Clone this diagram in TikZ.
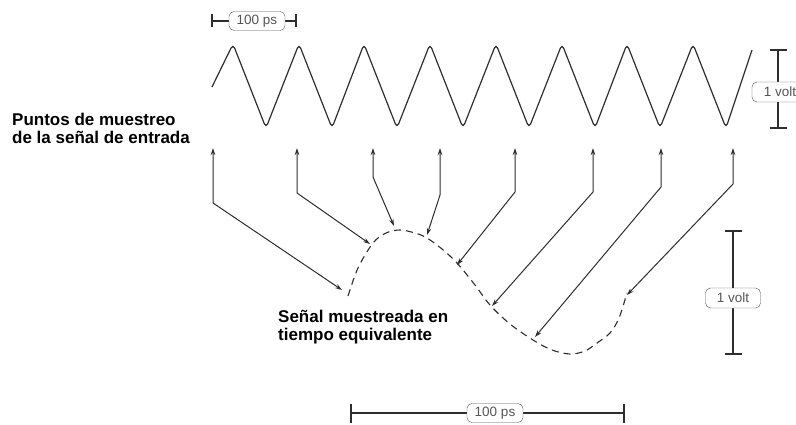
\documentclass[tikz,border=0pt]{standalone}
\usepackage{fontspec}
\setmainfont{Liberation Sans}
\usetikzlibrary{arrows.meta}
\definecolor{ink}{HTML}{2E2E2E}
\definecolor{lbl}{HTML}{555555}
\begin{document}
\begin{tikzpicture}[x=1pt,y=-1pt,
  wave/.style={draw=ink,line width=1.2pt,rounded corners=4.5pt},
  samplearrow/.style={draw=ink,line width=1pt,{Stealth[length=7pt,width=4.5pt]}-{Stealth[length=7pt,width=4.5pt]}},
  scalebar/.style={draw=ink,line width=1.1pt},
  scalelabel/.style={draw=lbl,fill=white,rounded corners=5pt,text=lbl,font=\fontsize{13.5}{15}\selectfont,inner sep=0pt,minimum height=19pt,minimum width=56pt},
  titletext/.style={font=\fontsize{17}{18}\selectfont\bfseries,align=left,inner sep=0pt,anchor=north west,text=black}]
\useasboundingbox[fill=white] (0,0) rectangle (796,425);

% input waveform
\draw[wave] (212,87) -- (233,44) -- (266,128) -- (299,44) -- (332,128) -- (364,44) -- (397,128) -- (430,44) -- (463,128) -- (496,44) -- (529,128) -- (562,44) -- (595,128) -- (627,44) -- (660,128) -- (693,44) -- (726,128) -- (752,50);

% reconstructed (equivalent time) signal
\draw[ink,line width=1.1pt,dash pattern=on 7pt off 5pt] plot[smooth,tension=0.55] coordinates {(348,296) (358,268) (373,243) (386,233) (400,230) (415,233) (427,238) (442,249) (457,263) (475,285) (490,305) (510,324) (533,340) (552,350) (570,354) (585,351) (597,343) (610,333) (619,318) (627,293)};

% sample arrows
\foreach \i/\sx/\by/\cx/\cy in {1/213/203/342/290, 2/297/193/370/244, 3/373/177/394/226, 4/440/195/427/235, 5/515/192/457/265, 6/593/192/492/306, 7/661/187/535/337, 8/733/184/627/295}{
  \coordinate (s\i) at (\sx,148);
  \coordinate (b\i) at (\sx,\by);
  \coordinate (c\i) at (\cx,\cy);
  \draw[samplearrow] (s\i) -- (b\i) -- (c\i);
}

% labels
\node[titletext] (inputlbl) at (12,113) {Puntos de muestreo\\de la señal de entrada};
\node[titletext] (eqlbl) at (278,310) {Señal muestreada en\\tiempo equivalente};

% top time scale
\coordinate (ttl) at (212,21);
\coordinate (ttr) at (296,21);
\draw[scalebar] (ttl) -- (ttr);
\draw[scalebar] ([yshift=6.5pt]ttl) -- ([yshift=-6.5pt]ttl);
\draw[scalebar] ([yshift=6.5pt]ttr) -- ([yshift=-6.5pt]ttr);
\node[scalelabel] (tps) at (257,21) {100 ps};

% top volt scale
\coordinate (tvt) at (778,50);
\coordinate (tvb) at (778,128);
\draw[scalebar] (tvt) -- (tvb);
\draw[scalebar] ([xshift=-8.5pt]tvt) -- ([xshift=8.5pt]tvt);
\draw[scalebar] ([xshift=-8.5pt]tvb) -- ([xshift=8.5pt]tvb);
\node[scalelabel,minimum height=20pt] (tvolt) at (780,92) {1 volt};

% bottom time scale
\coordinate (btl) at (351,413);
\coordinate (btr) at (624,413);
\draw[scalebar] (btl) -- (btr);
\draw[scalebar] ([yshift=9.5pt]btl) -- ([yshift=-9.5pt]btl);
\draw[scalebar] ([yshift=9.5pt]btr) -- ([yshift=-9.5pt]btr);
\node[scalelabel] (bps) at (495,413) {100 ps};

% bottom volt scale
\coordinate (bvt) at (733,231);
\coordinate (bvb) at (733,354);
\draw[scalebar] (bvt) -- (bvb);
\draw[scalebar] ([xshift=-8.5pt]bvt) -- ([xshift=8.5pt]bvt);
\draw[scalebar] ([xshift=-8.5pt]bvb) -- ([xshift=8.5pt]bvb);
\node[scalelabel,minimum height=20pt,minimum width=55pt] (bvolt) at (733,298) {1 volt};
\end{tikzpicture}
\end{document}
